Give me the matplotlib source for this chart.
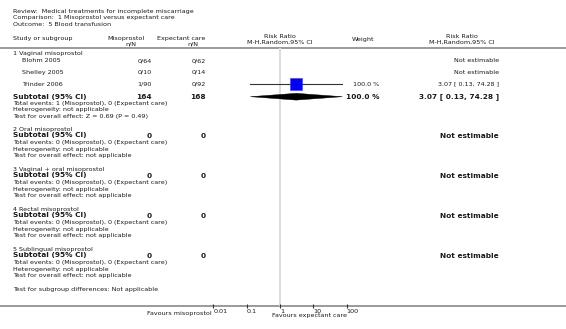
import matplotlib
matplotlib.use("Agg")
import matplotlib.pyplot as plt
from matplotlib.patches import Polygon

# ---------------- data ----------------
title_lines = ["Review:  Medical treatments for incomplete miscarriage",
               "Comparison:  1 Misoprostol versus expectant care",
               "Outcome:  5 Blood transfusion"]
subgroups = ["1 Vaginal misoprostol", "2 Oral misoprostol", "3 Vaginal + oral misoprostol",
             "4 Rectal misoprostol", "5 Sublingual misoprostol"]
studies = ["Blohm 2005", "Shelley 2005", "Trinder 2006"]
study_miso = ["0/64", "0/10", "1/90"]
study_exp = ["0/62", "0/14", "0/92"]
study_rr = [None, None, 3.07]
study_lo = [None, None, 0.13]
study_hi = [None, None, 74.28]
study_weight = [None, None, "100.0 %"]
sub_miso_n = ["164", "0", "0", "0", "0"]
sub_exp_n = ["168", "0", "0", "0", "0"]
sub_rr = [3.07, None, None, None, None]
sub_lo = [0.13, None, None, None, None]
sub_hi = [74.28, None, None, None, None]
sub_weight = ["100.0 %", None, None, None, None]
sub_events = [(1, 0), (0, 0), (0, 0), (0, 0), (0, 0)]
sub_effect = ["Z = 0.69 (P = 0.49)", "not applicable", "not applicable",
              "not applicable", "not applicable"]
xticks = [0.01, 0.1, 1, 10, 100]
xtick_labels = ["0.01", "0.1", "1", "10", "100"]

# ---------------- figure ----------------
W, H = 566, 329
fig = plt.figure(figsize=(W / 100, H / 100), dpi=100)
fig.patch.set_facecolor("white")
ax = fig.add_axes([0, 0, 1, 1])
ax.set_xlim(0, W)
ax.set_ylim(H, 0)
ax.axis("off")

FS = 4.6
FSB = 5.3
TC = "#1a1a1a"

def t(x, y, s, ha="left", bold=False, size=None):
    ax.text(x, y, s, ha=ha, va="center", fontsize=size or (FSB if bold else FS),
            fontweight="bold" if bold else "normal", color=TC)

# title
for i, s in enumerate(title_lines):
    t(13, 12 + i * 6, s)

# header
t(13, 38.5, "Study or subgroup")
t(126, 38.5, "Misoprostol", ha="center")
t(131, 43.5, "n/N", ha="center")
t(181, 38.5, "Expectant care", ha="center")
t(193, 43.5, "n/N", ha="center")
t(280, 37, "Risk Ratio", ha="center")
t(280, 42.5, "M-H,Random,95% CI", ha="center")
t(363, 39, "Weight", ha="center")
t(462, 37, "Risk Ratio", ha="center")
t(462, 42.5, "M-H,Random,95% CI", ha="center")
ax.plot([0, W], [47.7, 47.7], color="#9a9a9a", lw=1.4, solid_capstyle="butt")

# forest axes
y_top, y_bot = 47.7, 305.5
x0, x1 = 213.3, 346.7
fax = fig.add_axes([x0 / W, 1 - y_bot / H, (x1 - x0) / W, (y_bot - y_top) / H])
fax.set_xscale("log")
fax.set_xlim(0.01, 100)
fax.set_ylim(y_bot, y_top)
fax.patch.set_alpha(0)
for sp in fax.spines.values():
    sp.set_visible(False)
fax.set_yticks([])
fax.set_xticks(xticks)
fax.set_xticklabels(xtick_labels)
fax.minorticks_off()
fax.tick_params(axis="x", direction="inout", length=2.5, width=0.8, color="#333333",
                labelsize=FS, labelcolor=TC, pad=1)
for lab in fax.get_xticklabels():
    lab.set_horizontalalignment("left")
fax.axvline(1, color="#dddddd", lw=1.5, zorder=0)

# bottom axis line (full width)
ax.plot([0, W], [305.5, 305.5], color="#9a9a9a", lw=1.4, solid_capstyle="butt")
t(212, 313.5, "Favours misoprostol", ha="right")
t(272, 315, "Favours expectant care")

# rows
sec_y = [53, 130, 170, 210, 250]
study_y = [61, 72.5, 84.3]

for k, name in enumerate(subgroups):
    y0 = sec_y[k]
    t(13, y0, name)
    if k == 0:
        for j, st in enumerate(studies):
            ys = study_y[j]
            t(22, ys, st)
            t(152, ys, study_miso[j], ha="right")
            t(206, ys, study_exp[j], ha="right")
            if study_rr[j] is None:
                t(499, ys, "Not estimable", ha="right")
            else:
                fax.plot([study_lo[j], study_hi[j]], [ys, ys], color="#333333", lw=0.8)
                fax.plot([study_rr[j]], [ys], marker="s", ms=9.2, color="#0000ff",
                         mec="#3a3aff", mew=0.4, zorder=3)
                fax.plot([study_rr[j]], [ys], marker="+", ms=2.5, color="#000080", mew=0.5, zorder=4)
                t(379, ys, study_weight[j], ha="right")
                t(499, ys, "%.2f [ %.2f, %.2f ]" % (study_rr[j], study_lo[j], study_hi[j]), ha="right")
        ysub = 96.7
        gaps = [6.3, 12.6, 19.7]
    else:
        ysub = y0 + 5.5
        gaps = [7.0, 13.6, 20.0]
    t(13, ysub, "Subtotal (95% CI)", bold=True)
    t(152, ysub, sub_miso_n[k], ha="right", bold=True)
    t(206, ysub, sub_exp_n[k], ha="right", bold=True)
    if sub_rr[k] is None:
        t(499, ysub, "Not estimable", ha="right", bold=True)
    else:
        lo, mid, hi = sub_lo[k], sub_rr[k], sub_hi[k]
        dh = 3.4
        fax.add_patch(Polygon([[lo, ysub], [mid, ysub - dh], [hi, ysub], [mid, ysub + dh]],
                              closed=True, facecolor="black", edgecolor="black", lw=0.3, zorder=3))
        t(379, ysub, sub_weight[k], ha="right", bold=True)
        t(499, ysub, "%.2f [ %.2f, %.2f ]" % (mid, lo, hi), ha="right", bold=True)
    e1, e2 = sub_events[k]
    t(13, ysub + gaps[0], "Total events: %d (Misoprostol), %d (Expectant care)" % (e1, e2))
    t(13, ysub + gaps[1], "Heterogeneity: not applicable")
    t(13, ysub + gaps[2], "Test for overall effect: " + sub_effect[k])

t(13, 290, "Test for subgroup differences: Not applicable")

fig.savefig("out.png", dpi=100, facecolor="white")
